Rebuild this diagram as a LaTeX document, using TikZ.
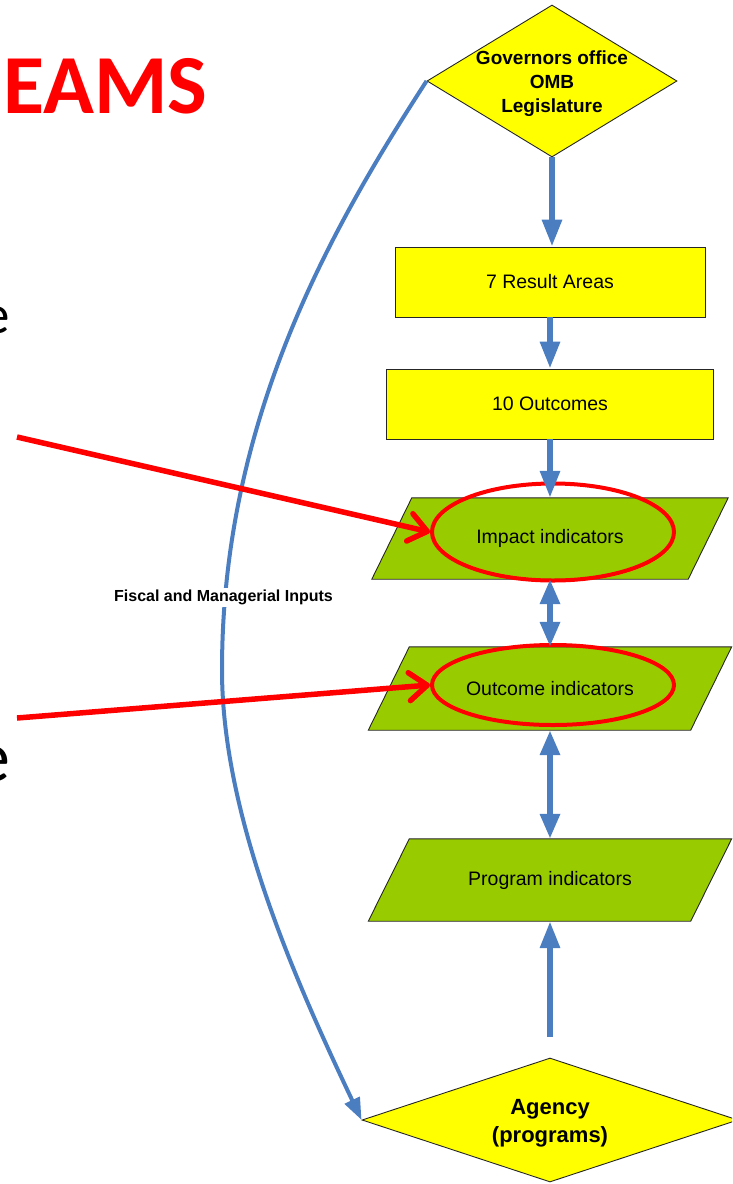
\documentclass[tikz,border=0pt]{standalone}
\usepackage{fontspec}
\newfontfamily\arialf{Liberation Sans}
\newfontfamily\calibrif{Carlito}
\usetikzlibrary{shapes.geometric,arrows.meta}
\pgfdeclarelayer{background}
\pgfsetlayers{background,main}
\definecolor{flowblue}{RGB}{74,126,193}
\definecolor{boxyellow}{RGB}{255,255,0}
\definecolor{paragreen}{RGB}{153,204,0}
\definecolor{hlred}{RGB}{255,0,0}
\begin{document}
\begin{tikzpicture}[x=1pt,y=-1pt,
  ybox/.style={draw=black!85, line width=0.9pt, fill=boxyellow, rectangle, inner sep=0pt,
    font=\arialf\fontsize{19.5}{23}\selectfont},
  dia/.style={draw=black!85, line width=0.9pt, fill=boxyellow, diamond, inner sep=0pt},
  parabox/.style={rectangle, inner sep=0pt, font=\arialf\fontsize{19.5}{23}\selectfont},
  para/.style={draw=black!85, line width=0.9pt, fill=paragreen},
  hell/.style={draw=hlred, line width=4pt, ellipse, inner sep=0pt},
  flow/.style={draw=flowblue, line width=6pt, -{Triangle[width=19pt,length=27pt]}},
  dflow/.style={draw=flowblue, line width=6pt, {Triangle[width=19pt,length=25pt]}-{Triangle[width=19pt,length=25pt]}},
  curvearrow/.style={draw=flowblue, line width=4pt, -{Triangle[width=16pt,length=22pt]}},
  redarrow/.style={draw=hlred, line width=5.5pt, -{Straight Barb[length=18pt,width=28pt,round]}}
]
\useasboundingbox (0,0) rectangle (732,1184);
\clip (0,0) rectangle (732,1184);

% partial slide text
\node[anchor=base west, text=hlred, font=\calibrif\bfseries\fontsize{84}{84}\selectfont, inner sep=0pt] (title) at (3,113) {EAMS};
\node[anchor=base east, font=\calibrif\fontsize{55}{55}\selectfont, inner sep=0pt] (e1) at (10,333) {e};
\node[anchor=base east, font=\calibrif\fontsize{72}{72}\selectfont, inner sep=0pt] (e2) at (11,781) {e};

% top diamond
\node[dia, minimum width=250pt, minimum height=152pt] (gov) at (552,81) {};
\node[font=\arialf\bfseries\fontsize{19}{24}\selectfont, align=center, inner sep=0pt] (govt) at (552,84) {Governors office\\OMB\\Legislature};

% yellow boxes
\node[ybox, minimum width=310pt, minimum height=70pt] (res) at (550,282) {7 Result Areas};
\node[ybox, minimum width=327pt, minimum height=70pt] (outc) at (550,404) {10 Outcomes};

% parallelogram nodes
\node[parabox, minimum width=316pt, minimum height=81pt] (imp) at (550,538.5) {Impact indicators};
\node[parabox, minimum width=322pt, minimum height=83pt] (outi) at (550,688.5) {Outcome indicators};
\node[parabox, minimum width=322pt, minimum height=82pt] (prog) at (550,880) {Program indicators};
\begin{pgfonlayer}{background}
\foreach \n/\s in {imp/20pt, outi/20.5pt, prog/20.5pt}{
  \draw[para] ([xshift=\s]\n.north west) -- ([xshift=\s]\n.north east)
    -- ([xshift=-\s]\n.south east) -- ([xshift=-\s]\n.south west) -- cycle;
}
\end{pgfonlayer}

% red highlight ellipses
\node[hell, minimum width=242pt, minimum height=97pt] (impE) at (553,532) {};
\node[hell, minimum width=242pt, minimum height=80pt] (outE) at (553,685) {};

% bottom diamond
\node[dia, minimum width=376pt, minimum height=124pt] (agency) at (550,1120) {};
\node[font=\arialf\bfseries\fontsize{22}{28}\selectfont, align=center, inner sep=0pt] (agt) at (550,1123) {Agency\\(programs)};

% flow arrows
\draw[flow] (gov.south) -- (gov.south |- res.north);
\draw[flow] (res.south) -- (res.south |- outc.north);
\draw[flow] (outc.south) -- (outc.south |- imp.north);
\draw[dflow] (imp.south) -- (outi.north);
\draw[dflow] (outi.south) -- (prog.north);
\coordinate (progsrc) at (550,1037);
\draw[flow] (progsrc) -- (prog.south);

% feedback curve
\draw[curvearrow] (gov.west) .. controls (330,230) and (222,420) .. (222,670)
  .. controls (222,820) and (300,990) .. (agency.west);
\node[fill=white, font=\arialf\bfseries\fontsize{16}{16}\selectfont, inner sep=2pt] (fisc) at (223.5,597) {Fiscal and Managerial Inputs};

% red pointer arrows
\coordinate (r1) at (17,437);
\coordinate (r2) at (17,718);
\draw[redarrow] (r1) -- (impE.west);
\draw[redarrow] (r2) -- (outE.west);
\end{tikzpicture}
\end{document}
